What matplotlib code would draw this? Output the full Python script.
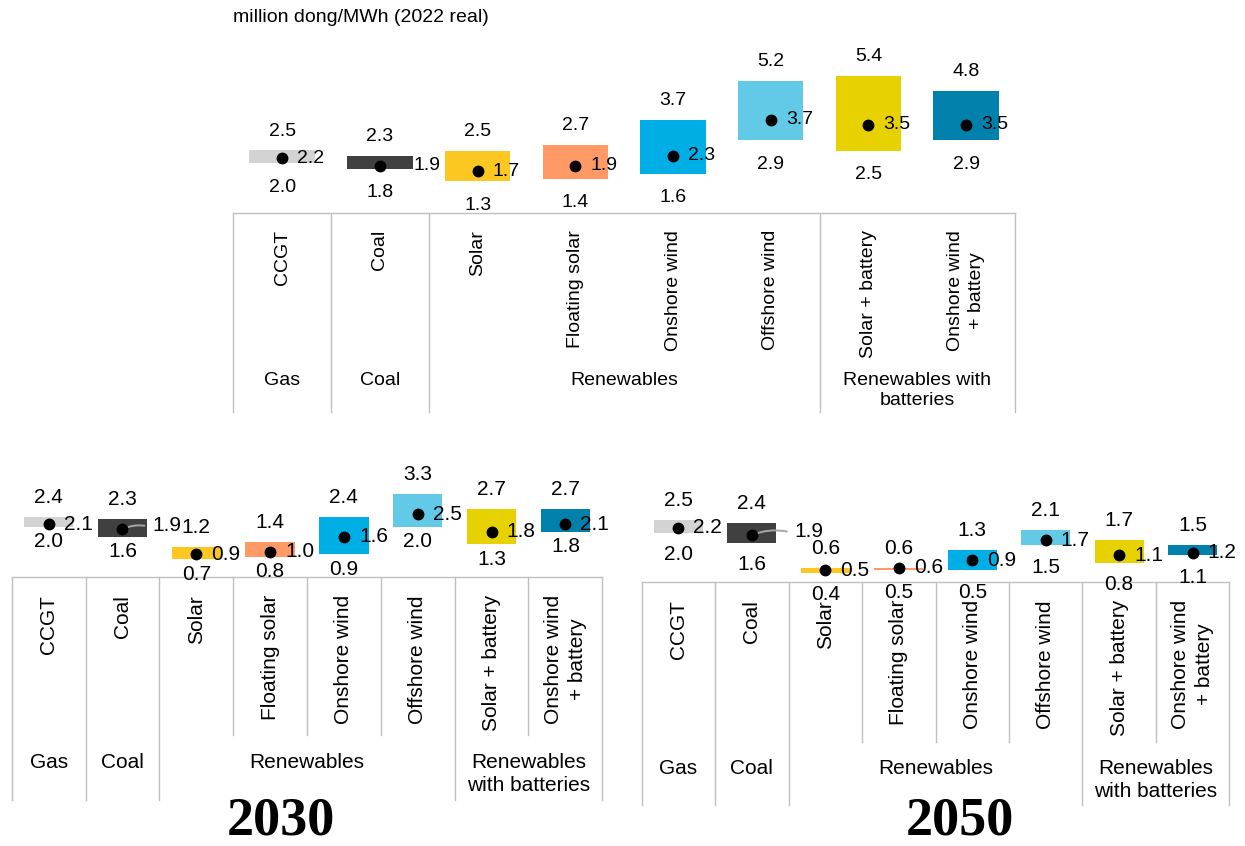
import matplotlib
matplotlib.use("Agg")
import matplotlib.pyplot as plt

plt.rcParams['font.family'] = ['Liberation Sans', 'DejaVu Sans']

# ---- data -------------------------------------------------------------
techs = ["CCGT", "Coal", "Solar", "Floating solar", "Onshore wind",
         "Offshore wind", "Solar + battery", "Onshore wind\n+ battery"]
tech_colors = ["#D3D3D3", "#404040", "#FDC721", "#FF9966", "#00AEE6",
               "#62CAE6", "#E8D100", "#0081AB"]

low_2022 = [2.0, 1.8, 1.3, 1.4, 1.6, 2.9, 2.5, 2.9]
mid_2022 = [2.2, 1.9, 1.7, 1.9, 2.3, 3.7, 3.5, 3.5]
high_2022 = [2.5, 2.3, 2.5, 2.7, 3.7, 5.2, 5.4, 4.8]

low_2030 = [2.0, 1.6, 0.7, 0.8, 0.9, 2.0, 1.3, 1.8]
mid_2030 = [2.1, 1.9, 0.9, 1.0, 1.6, 2.5, 1.8, 2.1]
high_2030 = [2.4, 2.3, 1.2, 1.4, 2.4, 3.3, 2.7, 2.7]

low_2050 = [2.0, 1.6, 0.4, 0.5, 0.5, 1.5, 0.8, 1.1]
mid_2050 = [2.2, 1.9, 0.5, 0.6, 0.9, 1.7, 1.1, 1.2]
high_2050 = [2.5, 2.4, 0.6, 0.6, 1.3, 2.1, 1.7, 1.5]

group_names_top = ["Gas", "Coal", "Renewables", "Renewables with\nbatteries"]
group_names_low = ["Gas", "Coal", "Renewables", "Renewables\nwith batteries"]
group_spans = [(0, 0), (1, 1), (2, 5), (6, 7)]

unit_label = "million dong/MWh (2022 real)"

# ---- figure -----------------------------------------------------------
W, H, DPI = 1245, 846, 100
fig = plt.figure(figsize=(W / DPI, H / DPI), dpi=DPI)
fig.patch.set_facecolor("white")

PT = 72.0 / DPI          # points per pixel
GRID = "#C0C0C0"


def draw_panel(low, mid, high, groups, x0, x1, zero, scale, top, axis_px,
               bottom, rot_top, group_top, inner_end, min_gap, coal_dx,
               coal_dy, leader, fs):
    ax = fig.add_axes([x0 / W, 1 - bottom / H, (x1 - x0) / W, (bottom - top) / H])
    ax.set_xlim(-0.5, 7.5)
    ax.set_ylim((zero - bottom) / scale, (zero - top) / scale)
    ax.axis("off")

    def yv(py):
        return (zero - py) / scale

    xs = list(range(len(techs)))
    heights = [h - l for l, h in zip(low, high)]
    ax.bar(xs, heights, bottom=low, width=0.67, color=tech_colors,
           linewidth=0, zorder=2)
    ax.plot(xs, mid, "o", color="black", ms=7.5, zorder=4, clip_on=False)

    for i in xs:
        ax.annotate(f"{high[i]:.1f}", (i, high[i]), xytext=(0, 19.5 * PT),
                    textcoords="offset points", ha="center", va="center",
                    fontsize=fs, zorder=5)
        ax.annotate(f"{low[i]:.1f}", (i, low[i]), xytext=(0, -min_gap * PT),
                    textcoords="offset points", ha="center", va="center",
                    fontsize=fs, zorder=5)
        if i == 1:
            dx, dy = coal_dx, coal_dy
        else:
            dx, dy = 15, 0
        ax.annotate(f"{mid[i]:.1f}", (i, mid[i]), xytext=(dx * PT, dy * PT),
                    textcoords="offset points", ha="left", va="center",
                    fontsize=fs, zorder=5)
        if i == 1 and leader:
            ax.annotate("", (i, mid[i]), xytext=((dx - 8) * PT, dy * PT),
                        textcoords="offset points",
                        arrowprops=dict(arrowstyle="-", color="#A6A6A6",
                                        lw=1.4, shrinkA=0, shrinkB=0,
                                        connectionstyle="arc3,rad=0.15"),
                        zorder=3)

    # category table
    ya, yb = yv(axis_px), yv(bottom)
    ax.plot([-0.5, 7.5], [ya, ya], color=GRID, lw=1.0, clip_on=False)
    for b in [-0.5, 0.5, 1.5, 5.5, 7.5]:
        ax.plot([b, b], [ya, yb], color=GRID, lw=1.0, clip_on=False)
    if inner_end is not None:
        yi = yv(inner_end)
        for b in [2.5, 3.5, 4.5, 6.5]:
            ax.plot([b, b], [ya, yi], color=GRID, lw=1.0, clip_on=False)

    for i, name in enumerate(techs):
        ax.text(i, yv(rot_top), name, rotation=90, ha="center", va="top",
                multialignment="center", fontsize=fs, linespacing=1.3)
    for name, (a, b) in zip(groups, group_spans):
        ax.text((a + b) / 2, yv(group_top), name, ha="center", va="top",
                multialignment="center", fontsize=fs, linespacing=1.25)
    return ax


draw_panel(low_2022, mid_2022, high_2022, group_names_top,
           x0=233.3, x1=1015, zero=215, scale=25.8, top=40, axis_px=212.7,
           bottom=412, rot_top=230, group_top=372, inner_end=None,
           min_gap=24, coal_dx=34, coal_dy=0, leader=False, fs=14)

draw_panel(low_2030, mid_2030, high_2030, group_names_low,
           x0=11.7, x1=602.3, zero=576.5, scale=24.9, top=470, axis_px=576.7,
           bottom=800, rot_top=595, group_top=753, inner_end=735,
           min_gap=15, coal_dx=30, coal_dy=3.5, leader=True, fs=15)

draw_panel(low_2050, mid_2050, high_2050, group_names_low,
           x0=641.7, x1=1229.3, zero=582.5, scale=25.0, top=470, axis_px=581.7,
           bottom=805, rot_top=600, group_top=759, inner_end=742,
           min_gap=22, coal_dx=43, coal_dy=3.5, leader=True, fs=15)

fig.text(233 / W, 1 - 18 / H, unit_label, ha="left", va="center", fontsize=14)
for label, cx in [("2030", 281), ("2050", 960)]:
    fig.text(cx / W, 1 - 834 / H, label, ha="center", va="baseline",
             fontsize=39, fontweight="bold", family="Liberation Serif")

fig.savefig("out.png", dpi=DPI, facecolor="white")
